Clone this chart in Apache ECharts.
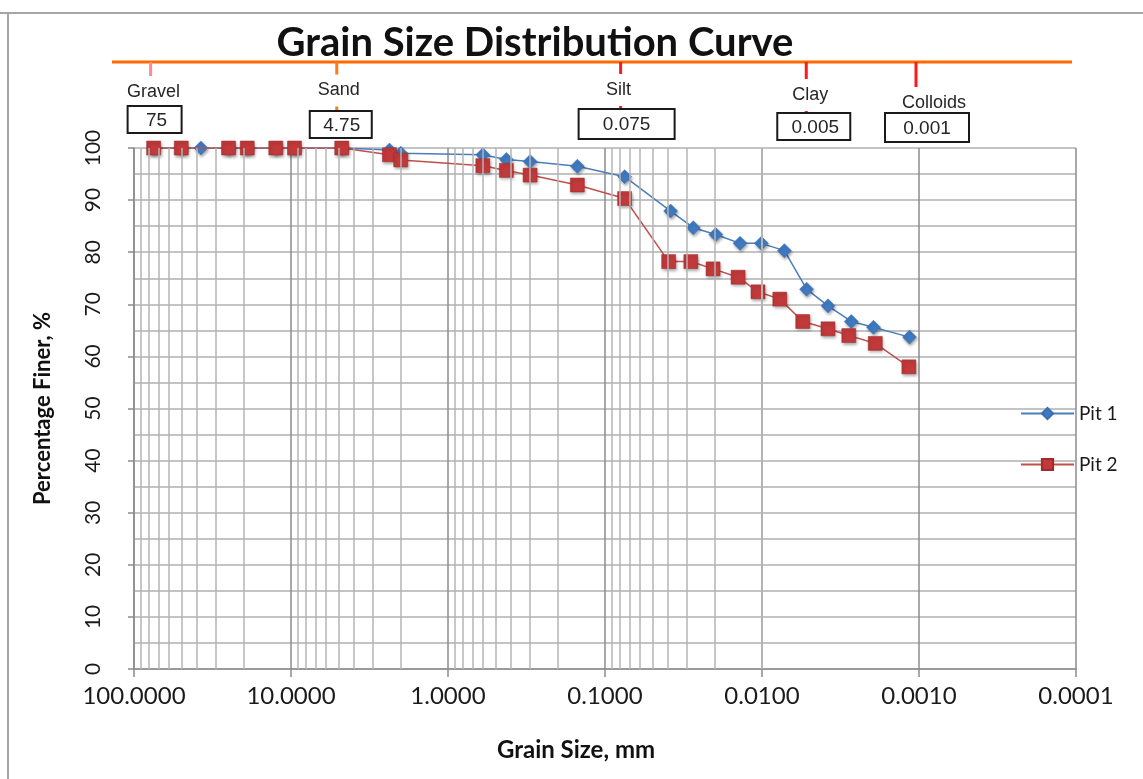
<!DOCTYPE html>
<html>
<head>
<meta charset="utf-8">
<title>Grain Size Distribution Curve</title>
<script src="https://cdn.jsdelivr.net/npm/echarts@6/dist/echarts.min.js"></script>
<style>
  html, body { margin: 0; padding: 0; background: #ffffff; }
  #chart { width: 1143px; height: 779px; }
</style>
</head>
<body>
<div id="chart"></div>
<script>
// Sieve + hydrometer results, grain size in mm, percentage finer in %
const pit1Size  = [75, 50, 37.5, 25, 19, 12.5, 9.5, 4.75, 2.36, 2.0, 0.6, 0.425, 0.3, 0.15, 0.075,
                   0.0382, 0.0274, 0.0197, 0.0138, 0.0101, 0.0072, 0.0052, 0.0038, 0.0027, 0.00195, 0.00115];
const pit1Finer = [100, 100, 100, 100, 100, 100, 100, 100, 99.6, 99.0, 98.7, 97.8, 97.4, 96.5, 94.5,
                   87.9, 84.7, 83.4, 81.7, 81.7, 80.3, 72.9, 69.7, 66.7, 65.6, 63.7];

const pit2Size  = [75, 50, 25, 19, 12.5, 9.5, 4.75, 2.36, 2.0, 0.6, 0.425, 0.3, 0.15, 0.075,
                   0.0393, 0.0284, 0.0205, 0.0142, 0.0106, 0.0077, 0.0055, 0.0038, 0.0028, 0.0019, 0.00116];
const pit2Finer = [100, 100, 100, 100, 100, 100, 100, 98.7, 97.7, 96.6, 95.7, 94.8, 92.9, 90.3,
                   78.2, 78.2, 76.8, 75.2, 72.4, 71.0, 66.7, 65.3, 64.0, 62.5, 58.0];

// Soil class boundaries (mm)
const classNames  = ['Gravel', 'Sand', 'Silt', 'Clay', 'Colloids'];
const classSize   = [75, 4.75, 0.075, 0.005, 0.001];
const classLabels = ['75', '4.75', '0.075', '0.005', '0.001'];

// Axis ticks
const yTicks = [0, 10, 20, 30, 40, 50, 60, 70, 80, 90, 100];

// Drawing layout for each boundary marker, in px relative to the plot top / boundary x
const markerLayout = [
  { tickDx: -3, color: '#ff8c8c', nameDx: 0,  nameDy: -56,   boxL: -26, boxR: 28, boxT: -42, boxB: -15, valDx: 3 },
  { tickDx: -5, color: '#ff7a1a', nameDx: -3, nameDy: -57.5, boxL: -32, boxR: 30, boxT: -37, boxB: -10, valDx: 0 },
  { tickDx: -4, color: '#ff1a1a', nameDx: -6, nameDy: -58,   boxL: -46, boxR: 50, boxT: -39, boxB: -9,  valDx: 2 },
  { tickDx: -3, color: '#ff1a1a', nameDx: 1,  nameDy: -53,   boxL: -32, boxR: 41, boxT: -35, boxB: -8,  valDx: 6 },
  { tickDx: -3, color: '#ff1a1a', nameDx: 15, nameDy: -45,   boxL: -34, boxR: 50, boxT: -35, boxB: -6,  valDx: 8 }
];
const ORANGE_DY = -86;

// Minor vertical gridlines at 2..9 x each decade
const minorLines = [];
for (let e = -4; e <= 1; e++) {
  for (let k = 2; k <= 9; k++) {
    minorLines.push({ xAxis: k * Math.pow(10, e) });
  }
}

const pit1 = pit1Size.map((s, i) => [s, pit1Finer[i]]);
const pit2 = pit2Size.map((s, i) => [s, pit2Finer[i]]);
const classData = classSize.map((s, i) => [s, 100, i]);

const chart = echarts.init(document.getElementById('chart'), null, { renderer: 'canvas' });

const markerShadow = {
  shadowBlur: 3,
  shadowColor: 'rgba(0,0,0,0.35)',
  shadowOffsetX: 1,
  shadowOffsetY: 2
};

chart.setOption({
  animation: false,
  backgroundColor: '#ffffff',
  title: [
    {
      text: 'Grain Size Distribution Curve',
      left: 530,
      top: 18,
      textAlign: 'center',
      textStyle: { fontFamily: 'Lato', fontWeight: 'bold', fontSize: 40, color: '#111111' }
    },
    {
      text: 'Grain Size, mm',
      left: 571,
      top: 733,
      textAlign: 'center',
      textStyle: { fontFamily: 'Lato', fontWeight: 'bold', fontSize: 24, color: '#111111' }
    }
  ],
  graphic: [
    { type: 'line', shape: { x1: 0, y1: 13, x2: 1143, y2: 13 }, style: { stroke: '#a6a6a6', lineWidth: 2 }, silent: true },
    { type: 'line', shape: { x1: 8, y1: 13, x2: 8, y2: 779 }, style: { stroke: '#a6a6a6', lineWidth: 2 }, silent: true },
    { type: 'line', shape: { x1: 112, y1: 62, x2: 1072, y2: 62 }, style: { stroke: '#ff6a00', lineWidth: 3 }, silent: true }
  ],
  legend: {
    data: ['Pit 1', 'Pit 2'],
    orient: 'vertical',
    left: 1020,
    top: 404,
    padding: 0,
    itemWidth: 53,
    itemHeight: 14,
    itemGap: 32,
    textStyle: { fontFamily: 'Lato', fontSize: 19, color: '#1a1a1a' }
  },
  grid: { left: 134, right: 67, top: 148, bottom: 110 },
  xAxis: {
    type: 'log',
    logBase: 10,
    min: 0.0001,
    max: 100,
    inverse: true,
    axisLine: { show: true, lineStyle: { color: '#8c8c8c', width: 1.5 } },
    axisTick: { show: true, length: 8, lineStyle: { color: '#8c8c8c', width: 1.5 } },
    axisLabel: {
      margin: 15,
      fontFamily: 'Lato',
      fontSize: 24,
      color: '#1a1a1a',
      formatter: v => Number(v).toFixed(4)
    },
    splitLine: { show: true, lineStyle: { color: '#8c8c8c', width: 1.5 } }
  },
  yAxis: {
    type: 'value',
    min: yTicks[0],
    max: yTicks[yTicks.length - 1],
    interval: 10,
    name: 'Percentage Finer, %',
    nameLocation: 'middle',
    nameRotate: 90,
    nameGap: 80,
    nameTextStyle: { fontFamily: 'Lato', fontWeight: 'bold', fontSize: 22, color: '#111111' },
    axisLine: { show: true, lineStyle: { color: '#8c8c8c', width: 1.5 } },
    axisTick: { show: true, length: 6, lineStyle: { color: '#8c8c8c', width: 1.5 } },
    axisLabel: {
      rotate: 90,
      margin: 30,
      fontFamily: 'Lato',
      fontSize: 21,
      color: '#1a1a1a'
    },
    splitLine: { show: true, lineStyle: { color: '#b0b0b0', width: 1.5 } },
    minorTick: { show: false, splitNumber: 2 },
    minorSplitLine: { show: true, lineStyle: { color: '#b0b0b0', width: 1.5 } }
  },
  series: [
    {
      name: 'minor grid',
      type: 'line',
      data: [],
      silent: true,
      z: 1,
      markLine: {
        silent: true,
        symbol: ['none', 'none'],
        label: { show: false },
        emphasis: { disabled: true },
        lineStyle: { color: '#b4b4b4', width: 1.5, type: 'solid' },
        data: minorLines
      }
    },
    {
      name: 'Pit 1',
      type: 'line',
      data: pit1,
      z: 3,
      symbol: 'diamond',
      symbolSize: 14,
      lineStyle: { color: '#4a7ebb', width: 1.5 },
      itemStyle: Object.assign({ color: '#3f79c0', borderColor: '#3a6fb0', borderWidth: 0.5 }, markerShadow)
    },
    {
      name: 'Pit 2',
      type: 'line',
      data: pit2,
      z: 4,
      symbol: 'rect',
      symbolSize: 14,
      lineStyle: { color: '#c0504d', width: 1.5 },
      itemStyle: Object.assign({ color: '#c1393a', borderColor: '#a32a2a', borderWidth: 0.5 }, markerShadow)
    },
    {
      name: 'class boundaries',
      type: 'custom',
      data: classData,
      clip: false,
      silent: true,
      z: 5,
      encode: { x: 0, y: 1 },
      renderItem: function (params, api) {
        const idx = api.value(2);
        const pt = api.coord([api.value(0), api.value(1)]);
        const L = markerLayout[idx];
        const x = pt[0];
        const top = pt[1];
        return {
          type: 'group',
          children: [
            {
              type: 'line',
              shape: { x1: x + L.tickDx, y1: top + ORANGE_DY, x2: x + L.tickDx, y2: top + L.boxT },
              style: { stroke: L.color, lineWidth: 3 }
            },
            {
              type: 'text',
              style: {
                x: x + L.nameDx,
                y: top + L.nameDy,
                text: classNames[idx],
                align: 'center',
                verticalAlign: 'middle',
                fontFamily: 'Liberation Sans',
                fontSize: 18,
                fill: '#262626',
                backgroundColor: '#ffffff',
                padding: [7, 3]
              }
            },
            {
              type: 'rect',
              shape: { x: x + L.boxL, y: top + L.boxT, width: L.boxR - L.boxL, height: L.boxB - L.boxT },
              style: { fill: '#ffffff', stroke: '#1a1a1a', lineWidth: 2 }
            },
            {
              type: 'text',
              style: {
                x: x + L.valDx,
                y: top + (L.boxT + L.boxB) / 2 + 1,
                text: classLabels[idx],
                align: 'center',
                verticalAlign: 'middle',
                fontFamily: 'Liberation Sans',
                fontSize: 19,
                fill: '#262626'
              }
            }
          ]
        };
      }
    }
  ]
});
</script>
</body>
</html>
